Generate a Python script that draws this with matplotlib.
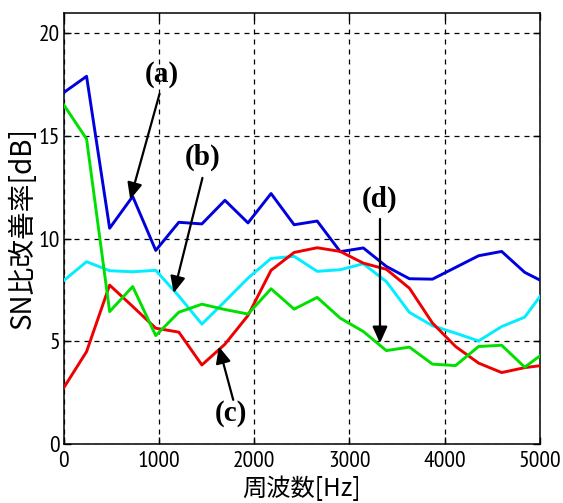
import matplotlib
matplotlib.use("Agg")
import matplotlib.pyplot as plt
from matplotlib import font_manager
from matplotlib.font_manager import FontProperties

# ---- data ----
freq = [0, 242, 484, 726, 968, 1210, 1452, 1694, 1936, 2178, 2420,
        2662, 2904, 3146, 3388, 3630, 3872, 4114, 4356, 4598, 4840, 5082]
blue_a = [17.1, 17.9, 10.5, 12.05, 9.42, 10.79, 10.71, 11.86, 10.76, 12.19, 10.67,
          10.85, 9.36, 9.54, 8.64, 8.04, 8.02, 8.59, 9.16, 9.37, 8.35, 7.78]
cyan_b = [7.94, 8.87, 8.43, 8.38, 8.45, 7.2, 5.83, 6.94, 8.07, 9.03, 9.13,
          8.40, 8.48, 8.77, 7.90, 6.40, 5.75, 5.39, 5.01, 5.71, 6.17, 7.69]
red_c = [2.71, 4.49, 7.73, 6.69, 5.63, 5.44, 3.84, 4.85, 6.25, 8.45, 9.32,
         9.55, 9.37, 8.80, 8.50, 7.58, 5.88, 4.74, 3.93, 3.47, 3.71, 3.85]
green_d = [16.53, 14.85, 6.44, 7.66, 5.27, 6.41, 6.80, 6.54, 6.32, 7.55, 6.56,
           7.13, 6.12, 5.47, 4.54, 4.71, 3.88, 3.81, 4.74, 4.80, 3.73, 4.57]
xticks = [0, 1000, 2000, 3000, 4000, 5000]
yticks = [0, 5, 10, 15, 20]
xlabel = "周波数[Hz]"
ylabel = "SN比改善率[dB]"
labels = ["(a)", "(b)", "(c)", "(d)"]


def narrow_font(size):
    """Pick the narrowest available sans font for the tick labels."""
    ttf = font_manager.fontManager.ttflist
    def find(pred):
        for f in ttf:
            if pred(f) and f.weight in (400, "normal", "regular") and f.style == "normal":
                return f.fname
        for f in ttf:
            if pred(f):
                return f.fname
        return None
    cands = [
        lambda f: f.name == "Liberation Sans Narrow",
        lambda f: "narrow" in f.fname.lower() and "sans" in f.fname.lower(),
        lambda f: "condensed" in f.name.lower() or "condensed" in f.fname.lower()
                  and "bold" not in f.fname.lower() and "oblique" not in f.fname.lower(),
        lambda f: "condensed" in str(f.stretch).lower(),
    ]
    for c in cands:
        p = find(c)
        if p:
            return FontProperties(fname=p, size=size)
    return FontProperties(family="Liberation Sans", size=size)


def pick(name, fallback):
    try:
        font_manager.findfont(name, fallback_to_default=False)
        return name
    except Exception:
        return fallback


serif = pick("Liberation Serif", "DejaVu Serif")
cjk = "Noto Sans CJK JP"
tickfp = narrow_font(17)

fig = plt.figure(figsize=(5.63, 5.03), dpi=100)
ax = fig.add_axes([0.1128, 0.1177, 0.9591 - 0.1128, 0.9748 - 0.1177])

lw = 2.1
ax.plot(freq, blue_a, color="#0000dd", lw=lw, zorder=3)
ax.plot(freq, cyan_b, color="#00eeff", lw=lw, zorder=3)
ax.plot(freq, red_c, color="#ee0000", lw=lw, zorder=3)
ax.plot(freq, green_d, color="#00e000", lw=lw, zorder=3)

ax.set_xlim(0, 5000)
ax.set_ylim(0, 21)
ax.set_xticks(xticks)
ax.set_yticks(yticks)
ax.set_xticklabels([str(t) for t in xticks])
ax.set_yticklabels([str(t) for t in yticks])
for t in ax.get_xticklabels() + ax.get_yticklabels():
    t.set_fontproperties(tickfp)
ax.tick_params(direction="in", length=5, width=1, top=True, right=True)
ax.tick_params(axis="x", pad=5)
ax.tick_params(axis="y", pad=2.5)
ax.grid(True, color="black", linestyle=(0, (4, 4)), linewidth=0.9)
for s in ax.spines.values():
    s.set_linewidth(1.1)

ax.set_xlabel(xlabel, family=[cjk], fontsize=17.5, va="top")
ax.xaxis.set_label_coords(0.5, -0.075)
ax.set_ylabel(ylabel, family=[cjk], fontsize=20)
ax.yaxis.set_label_coords(-0.055, 0.5)

# annotations (label position, arrow tail, arrow head)
ann = [
    ((1033, 18.0), (1008, 17.05), (700, 11.9)),
    ((1465, 13.93), (1458, 12.95), (1156, 7.34)),
    ((1753, 1.49), (1781, 2.14), (1630, 4.74)),
    ((3314, 11.9), (3321, 10.95), (3321, 4.9)),
]
for lab, (tpos, tail, head) in zip(labels, ann):
    ax.text(tpos[0], tpos[1], lab, family=[serif], fontweight="bold",
            fontsize=21, ha="center", va="center", zorder=5)
    ax.annotate("", xy=head, xytext=tail,
                arrowprops=dict(arrowstyle="-|>,head_length=1.0,head_width=0.45",
                                mutation_scale=10, color="black", lw=1.6,
                                shrinkA=0, shrinkB=0), zorder=5)

fig.savefig("out.png", dpi=100)
